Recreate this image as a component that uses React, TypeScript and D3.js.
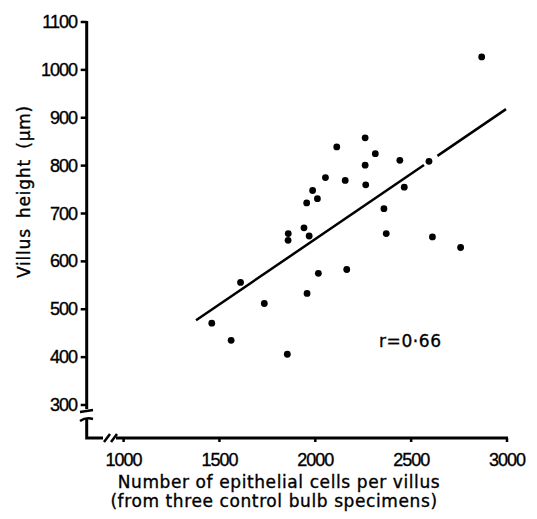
import React from 'react';
import * as d3 from 'd3';

// cells per villus vs villus height (um)
const cells = [1460, 1561, 1610, 1734, 1854, 1859, 1858, 1941, 1955, 1957, 1968, 1986, 2011, 2016, 2053,
  2112, 2156, 2164, 2260, 2260, 2263, 2313, 2358, 2370, 2441, 2464, 2593, 2611, 2758, 2868];
const heights = [471, 435, 556, 512, 406, 658, 644, 670, 722, 533, 653, 748, 731, 575, 775,
  839, 769, 583, 858, 801, 760, 825, 710, 658, 811, 755, 809, 651, 629, 1027];

const xTicks = [1000, 1500, 2000, 2500, 3000];
const yTicks = [300, 400, 500, 600, 700, 800, 900, 1000, 1100];

// fitted line, with the small gap where it passes a point
const fitStart = [1378, 477];
const fitEnd = [2995, 918];
const fitGap = [2567, 2637];

const numFont = '"Liberation Sans", Arial, sans-serif';
const font = '"DejaVu Sans", sans-serif';

const App = () => {
  const width = 537;
  const height = 519;

  const x = d3.scaleLinear().domain([1000, 3000]).range([123.6, 507]);
  const y = d3.scaleLinear().domain([300, 1100]).range([405, 22]);

  const fitY = (v: number) =>
    fitStart[1] + (fitEnd[1] - fitStart[1]) * (v - fitStart[0]) / (fitEnd[0] - fitStart[0]);
  const segs = [
    [fitStart[0], fitGap[0]],
    [fitGap[1], fitEnd[0]],
  ];

  const axisX = 86.7;
  const axisY = 438;
  const ink = '#000';
  const txt = { fill: ink, stroke: ink, strokeWidth: 0.35 };

  return (
    <svg width={width} height={height} style={{ position: 'absolute', left: 0, top: 0 }}>
      <rect width={width} height={height} fill="#fff" />

      {/* y axis */}
      <line x1={axisX} x2={axisX} y1={y(1100) - 1} y2={409} stroke={ink} strokeWidth={3} />
      <path d={`M80,412 L93,410`} stroke={ink} strokeWidth={2.5} fill="none" />
      <path d={`M80,421 Q86,417 93,419`} stroke={ink} strokeWidth={2.5} fill="none" />
      <path d={`M${axisX},419 L${axisX},${axisY} L103,${axisY}`} stroke={ink} strokeWidth={3} fill="none" />
      {yTicks.map(t => (
        <g key={t}>
          <line x1={axisX - 6} x2={axisX} y1={y(t)} y2={y(t)} stroke={ink} strokeWidth={2.5} />
          <text x={77} y={y(t) + 6} textAnchor="end" fontFamily={numFont} fontSize={18}
            letterSpacing={-1} {...txt}>{t}</text>
        </g>
      ))}

      {/* x axis */}
      <path d={`M104,442 L110,434`} stroke={ink} strokeWidth={2.5} fill="none" />
      <path d={`M111,442 L117,434`} stroke={ink} strokeWidth={2.5} fill="none" />
      <line x1={116} x2={x(3000) + 1} y1={axisY} y2={axisY} stroke={ink} strokeWidth={3} />
      {xTicks.map(t => (
        <g key={t}>
          <line x1={x(t)} x2={x(t)} y1={axisY} y2={axisY + 4} stroke={ink} strokeWidth={2.5} />
          <text x={x(t)} y={466} textAnchor="middle" fontFamily={numFont} fontSize={18}
            letterSpacing={-1} {...txt}>{t}</text>
        </g>
      ))}

      {/* fitted line */}
      {segs.map((s, i) => (
        <line key={i} x1={x(s[0])} y1={y(fitY(s[0]))} x2={x(s[1])} y2={y(fitY(s[1]))}
          stroke={ink} strokeWidth={2.5} />
      ))}

      {/* points */}
      {cells.map((c, i) => (
        <circle key={i} cx={x(c)} cy={y(heights[i])} r={3.4} fill={ink} />
      ))}

      <text x={379} y={347} fontFamily={font} fontSize={17} letterSpacing={0.6} {...txt}>r=0·66</text>

      {/* titles */}
      <text x={279} y={488} textAnchor="middle" fontFamily={font} fontSize={17}
        letterSpacing={0.6} {...txt}>
        Number of epithelial cells per villus
      </text>
      <text x={274} y={507} textAnchor="middle" fontFamily={font} fontSize={17}
        letterSpacing={0.6} {...txt}>
        (from three control bulb specimens)
      </text>
      <text transform={`translate(30,191.5) rotate(-90)`} textAnchor="middle" fontFamily={font}
        fontSize={17} letterSpacing={0.8} wordSpacing={4} {...txt}>
        Villus height (μm)
      </text>
    </svg>
  );
};

export default App;
